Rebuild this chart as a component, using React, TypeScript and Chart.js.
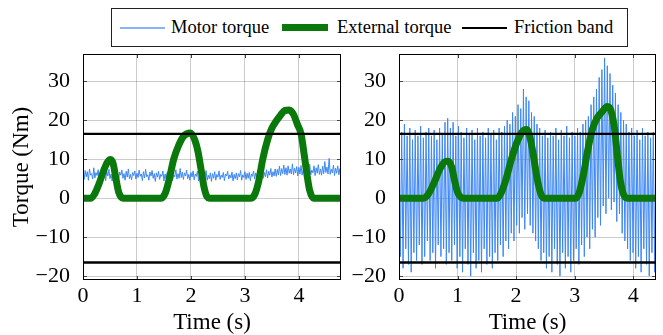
import React, { useEffect, useRef } from 'react';
import { Chart, registerables } from 'chart.js';

Chart.register(...registerables);

const FONT = '"Liberation Serif", Tinos, "Times New Roman", Times, "DejaVu Serif", serif';

// ---- axes ----
const yTicks = [-20, -10, 0, 10, 20, 30];
const yMin = -21;
const yMax = 37;
const xTicksLeft = [0, 1, 2, 3, 4];
const xTicksRight = [0, 1, 2, 3, 4];
const leftTimeMax = 4.78;
const rightTimeMax = 4.39;
const frictionBand = 16.5;

// ---- left experiment: motor torque (sampled uniformly from 0 to leftTimeMax) ----
const leftMotorTorque = [
  6.2, 4.8, 7.1, 5.5, 6.8, 4.6, 7.5, 5.9, 6.3, 4.9, 7.8, 5.2, 6.6, 5.8, 7.3, 4.7, 6.1, 5.4, 7.0, 5.6,
  6.4, 4.5, 6.9, 5.7, 7.4, 5.0, 6.2, 4.4, 6.8, 5.3, 7.1, 5.5, 6.0, 4.8, 6.7, 5.9, 7.2, 5.1, 6.3, 4.6,
  6.9, 5.4, 7.5, 5.0, 6.1, 4.7, 6.6, 5.8, 7.0, 4.9, 6.4, 5.3, 7.2, 5.6, 6.2, 4.5, 6.8, 5.2, 7.4, 5.5,
  6.0, 4.6, 6.7, 5.7, 7.1, 5.1, 6.3, 4.3, 6.5, 5.4, 6.9, 4.8, 6.1, 5.6, 7.0, 4.4, 6.2, 5.0, 6.6, 4.7,
  6.4, 5.2, 6.8, 4.5, 6.0, 5.5, 7.3, 4.9, 6.3, 5.1, 7.6, 5.3, 6.7, 4.8, 6.5, 5.7, 7.2, 5.0, 6.1, 4.6,
  6.6, 5.4, 7.0, 4.7, 6.2, 5.6, 6.9, 4.4, 6.0, 5.2, 6.7, 4.9, 6.4, 5.5, 7.1, 4.6, 5.9, 5.0, 6.5, 4.3,
  6.3, 5.1, 6.8, 4.6, 6.1, 5.4, 7.0, 4.8, 5.9, 5.3, 6.6, 4.5, 6.2, 5.7, 6.9, 4.9, 6.0, 5.2, 6.7, 4.4,
  6.1, 5.0, 6.5, 4.7, 6.3, 5.5, 7.1, 4.6, 6.0, 5.3, 6.8, 4.8, 6.4, 5.1, 6.6, 4.5, 6.2, 5.6, 7.0, 4.9,
  6.5, 5.3, 7.2, 5.0, 6.7, 5.8, 7.4, 5.1, 6.6, 5.5, 7.3, 5.2, 6.9, 5.9, 7.6, 5.4, 6.8, 5.7, 7.5, 5.6,
  7.4, 6.0, 8.2, 5.8, 7.6, 6.3, 8.5, 6.1, 7.8, 5.9, 8.3, 6.4, 7.5, 6.2, 8.8, 6.0, 7.7, 6.5, 8.1, 5.7,
  7.9, 6.2, 8.4, 5.9, 7.3, 6.6, 8.0, 5.6, 7.6, 6.3, 8.7, 6.0, 7.2, 6.5, 8.3, 5.8, 7.8, 6.4, 8.6, 6.1,
  7.5, 5.9, 8.2, 6.3, 9.4, 6.6, 8.0, 6.2, 10.2, 6.1, 7.4, 6.5, 8.5, 5.8, 7.7, 6.4, 8.3, 6.0, 7.6, 5.7,
];

// ---- left experiment: external torque ----
const leftExternalTime = [
  0, 0.15, 0.22, 0.3, 0.38, 0.45, 0.51, 0.56, 0.61, 0.66, 0.71, 0.75,
  1.45, 1.53, 1.6, 1.68, 1.77, 1.87, 1.99, 2.07, 2.13, 2.18, 2.24, 2.3, 2.34,
  3.12, 3.19, 3.25, 3.33, 3.42, 3.5, 3.58, 3.66, 3.74, 3.82, 3.9, 3.97, 4.04, 4.1, 4.15, 4.2, 4.27,
  4.78,
];
const leftExternalTorque = [
  0, 0, 1.2, 3.8, 7.0, 9.2, 9.9, 8.8, 5.0, 1.6, 0.2, 0,
  0, 1.5, 5, 10, 13.5, 16, 16.7, 15, 12, 8, 3, 0.3, 0,
  0, 1.2, 4, 10, 15, 18, 19.8, 21.3, 22.5, 22.6, 21.5, 19, 16.5, 11, 6, 2, 0,
  0,
];

// ---- right experiment: motor torque (sampled uniformly from 0 to rightTimeMax) ----
const rightMotorTorque = [
  18, -15, 17, -18, 19, -13, 16, -17, 18, -19, 15, -14, 17.5, -16, 16, -12, 18.5, -17, 15.5, -15,
  17, -11, 18, -16, 16, -14, 17.5, -18, 15, -12, 18, -15, 16.5, -13, 19.5, -17, 20.5, -14, 18, -16,
  19.5, -12, 16, -18, 18.5, -15, 17, -19, 15.5, -13, 18, -17, 16.5, -20, 17.5, -14, 15, -18, 18, -16,
  16, -19, 17, -13, 15.5, -17, 18, -15, 16.5, -18, 17.5, -14, 15, -16, 18, -12, 17, -15, 18.5, -11,
  20, -13, 19, -9, 22, -11, 21, -7, 24, -9, 23, -5, 28, -8, 26, -4, 25, -7, 22, -9,
  21, -11, 19, -13, 18, -16, 16, -14, 17.5, -18, 15.5, -15, 17, -19, 16, -13, 18, -17, 15, -20,
  17.5, -14, 16, -18, 18.5, -15, 15.5, -19, 17, -16, 16, -13, 18, -17, 17, -12, 19, -15, 20, -10,
  21, -13, 24, -8, 26, -10, 28, -5, 31, -7, 33, -2, 36, -4, 34, 0, 32, -3, 29, -1,
  27, -6, 24, -4, 22, -9, 20, -11, 19, -13, 17, -16, 18, -14, 16, -18, 17.5, -15, 15, -19,
  18, -13, 16, -17, 17, -20, 15.5, -14, 17, -19, 16,
];

// ---- right experiment: external torque ----
const rightExternalTime = [
  0, 0.42, 0.5, 0.6, 0.7, 0.78, 0.84, 0.9, 0.95, 1.0, 1.06, 1.1,
  1.68, 1.75, 1.83, 1.92, 2.02, 2.12, 2.18, 2.24, 2.3, 2.36, 2.42, 2.48,
  3.02, 3.08, 3.15, 3.22, 3.3, 3.38, 3.46, 3.56, 3.62, 3.68, 3.73, 3.78, 3.84, 3.9,
  4.39,
];
const rightExternalTorque = [
  0, 0, 1, 4, 7.5, 9.3, 9.5, 8, 4.5, 1.5, 0.2, 0,
  0, 1.5, 5, 10, 14.5, 17.3, 17.6, 15.5, 10.5, 5, 1.2, 0,
  0, 1.5, 6, 12, 17.5, 20.5, 22, 23.5, 22.5, 18, 11, 4.5, 0.8, 0,
  0,
];

const MOTOR_COLOR = '#3d87f5';
const EXTERNAL_COLOR = '#0b780b';

const framePlugin = {
  id: 'frame',
  afterDraw(chart: any) {
    const { ctx, chartArea } = chart;
    const { left, right, top, bottom } = chartArea;
    const xs = chart.scales.x;
    const ys = chart.scales.y;
    ctx.save();
    ctx.strokeStyle = '#444';
    ctx.lineWidth = 1;
    ctx.beginPath();
    xs.ticks.forEach((t: any) => {
      const px = Math.round(xs.getPixelForValue(t.value)) + 0.5;
      ctx.moveTo(px, bottom);
      ctx.lineTo(px, bottom - 4);
      ctx.moveTo(px, top);
      ctx.lineTo(px, top + 4);
    });
    ys.ticks.forEach((t: any) => {
      const py = Math.round(ys.getPixelForValue(t.value)) + 0.5;
      ctx.moveTo(left, py);
      ctx.lineTo(left + 4, py);
      ctx.moveTo(right, py);
      ctx.lineTo(right - 4, py);
    });
    ctx.stroke();
    ctx.strokeStyle = '#000';
    ctx.lineWidth = 1;
    ctx.strokeRect(Math.round(left) + 0.5, Math.round(top) + 0.5, Math.round(right - left) - 1, Math.round(bottom - top) - 1);
    ctx.restore();
  },
};

type Side = {
  motor: number[];
  timeMax: number;
  extTime: number[];
  extTorque: number[];
  xTicks: number[];
  yAxisWidth: number;
  rightPad: number;
  showYTitle: boolean;
};

function buildConfig(s: Side): any {
  const period = s.timeMax / (s.motor.length - 1);
  return {
    type: 'line',
    data: {
      datasets: [
        {
          label: 'Friction band',
          data: [{ x: 0, y: frictionBand }, { x: s.timeMax, y: frictionBand }],
          borderColor: '#000',
          borderWidth: 2.4,
          order: 1,
        },
        {
          label: 'Friction band (lower)',
          data: [{ x: 0, y: -frictionBand }, { x: s.timeMax, y: -frictionBand }],
          borderColor: '#000',
          borderWidth: 2.4,
          order: 1,
        },
        {
          label: 'External torque',
          data: s.extTime.map((t, i) => ({ x: t, y: s.extTorque[i] })),
          borderColor: EXTERNAL_COLOR,
          borderWidth: 7,
          cubicInterpolationMode: 'monotone',
          borderCapStyle: 'round',
          borderJoinStyle: 'round',
          order: 2,
        },
        {
          label: 'Motor torque',
          data: s.motor.map((v, i) => ({ x: i * period, y: v })),
          borderColor: MOTOR_COLOR,
          borderWidth: 1,
          tension: 0,
          order: 3,
        },
      ],
    },
    options: {
      responsive: false,
      animation: false,
      devicePixelRatio: 1,
      events: [],
      elements: { point: { radius: 0 }, line: { fill: false } },
      datasets: { line: { clip: 0 } },
      layout: { padding: { top: 54, right: s.rightPad, bottom: 0, left: 0 } },
      plugins: { legend: { display: false }, tooltip: { enabled: false } },
      scales: {
        x: {
          type: 'linear',
          min: 0,
          max: s.timeMax,
          afterBuildTicks: (sc: any) => {
            sc.ticks = s.xTicks.map((v) => ({ value: v }));
          },
          afterFit: (sc: any) => {
            sc.height = 55;
          },
          grid: { color: 'rgba(0,0,0,0.2)', drawTicks: false },
          border: { display: false },
          ticks: {
            font: { family: FONT, size: 22, lineHeight: 1.2 },
            color: '#000',
            padding: 3,
            maxRotation: 0,
            autoSkip: false,
            callback: (v: any) => String(v),
          },
          title: {
            display: true,
            text: 'Time (s)',
            color: '#000',
            font: { family: FONT, size: 23, lineHeight: 1 },
            padding: { top: 0, bottom: 1 },
          },
        },
        y: {
          type: 'linear',
          min: yMin,
          max: yMax,
          afterBuildTicks: (sc: any) => {
            sc.ticks = yTicks.map((v) => ({ value: v }));
          },
          afterFit: (sc: any) => {
            sc.width = s.yAxisWidth;
          },
          grid: { color: 'rgba(0,0,0,0.2)', drawTicks: false },
          border: { display: false },
          ticks: {
            font: { family: FONT, size: 22, lineHeight: 1.2 },
            color: '#000',
            padding: 13,
            callback: (v: any) => (v < 0 ? '\u2212' + Math.abs(v) : String(v)),
          },
          title: {
            display: s.showYTitle,
            text: 'Torque (Nm)',
            color: '#000',
            font: { family: FONT, size: 23, lineHeight: 1 },
            padding: { top: 10, bottom: 0 },
          },
        },
      },
    },
    plugins: [framePlugin],
  };
}

function Panel(props: { side: Side; left: number; width: number }) {
  const ref = useRef<HTMLCanvasElement | null>(null);
  useEffect(() => {
    if (!ref.current) return;
    const chart = new Chart(ref.current, buildConfig(props.side));
    return () => chart.destroy();
  }, []);
  return (
    <canvas
      ref={ref}
      width={props.width}
      height={335}
      style={{ position: 'absolute', left: props.left, top: 0, width: props.width, height: 335 }}
    />
  );
}

const leftSide: Side = {
  motor: leftMotorTorque,
  timeMax: leftTimeMax,
  extTime: leftExternalTime,
  extTorque: leftExternalTorque,
  xTicks: xTicksLeft,
  yAxisWidth: 83,
  rightPad: 9,
  showYTitle: true,
};

const rightSide: Side = {
  motor: rightMotorTorque,
  timeMax: rightTimeMax,
  extTime: rightExternalTime,
  extTorque: rightExternalTorque,
  xTicks: xTicksRight,
  yAxisWidth: 49,
  rightPad: 7,
  showYTitle: false,
};

const legendText: React.CSSProperties = {
  position: 'absolute',
  top: 0,
  lineHeight: '37px',
  fontFamily: FONT,
  fontSize: 18.5,
  color: '#000',
  whiteSpace: 'nowrap',
};

function Legend() {
  return (
    <div
      style={{
        position: 'absolute',
        left: 111,
        top: 8,
        width: 517,
        height: 39,
        border: '1px solid #222',
        boxSizing: 'border-box',
        background: '#fff',
      }}
    >
      <div style={{ position: 'absolute', left: 8, top: 18, width: 45, height: 1.5, background: '#85b4fb' }} />
      <span style={{ ...legendText, left: 59 }}>Motor torque</span>
      <div style={{ position: 'absolute', left: 170, top: 15, width: 46, height: 7, background: EXTERNAL_COLOR }} />
      <span style={{ ...legendText, left: 225 }}>External torque</span>
      <div style={{ position: 'absolute', left: 350, top: 17.5, width: 45, height: 2.5, background: '#000' }} />
      <span style={{ ...legendText, left: 402 }}>Friction band</span>
    </div>
  );
}

export default function App() {
  return (
    <div style={{ position: 'absolute', left: 0, top: 0, width: 663, height: 335, background: '#fff', overflow: 'hidden' }}>
      <Panel side={leftSide} left={0} width={350} />
      <Panel side={rightSide} left={350} width={313} />
      <Legend />
    </div>
  );
}
